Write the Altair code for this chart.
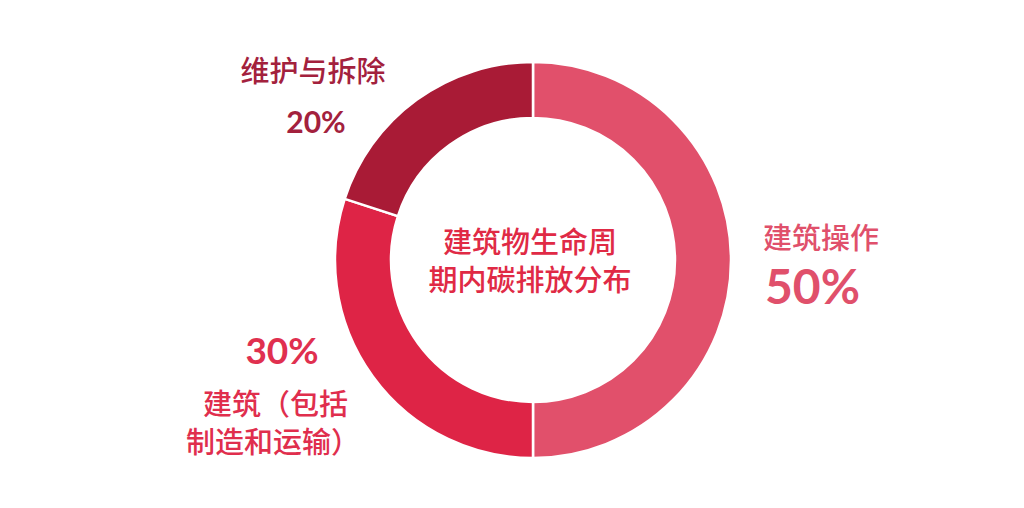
import altair as alt
import pandas as pd

# ---- data ----
categories = ["建筑操作", "建筑（包括制造和运输）", "维护与拆除"]
values = [50, 30, 20]
seg_colors = ["#E1506B", "#DE2446", "#A91B36"]

label_texts = ["维护与拆除", "20%", "建筑操作", "50%", "30%", "建筑（包括", "制造和运输）",
               "建筑物生命周", "期内碳排放分布"]

# ---- layout (pixel positions inside the plot area) ----
lx = [305, 308, 755, 757, 274, 340, 352, 522, 522]
ly = [65, 116, 232, 282, 345, 398, 436, 236, 274]
lalign = ["center", "center", "left", "left", "center", "right", "right", "center", "center"]
lsize = [29, 30, 29, 48, 37, 29, 29, 29, 29]
lfont = ["Noto Sans CJK SC", "Lato", "Noto Sans CJK SC", "Lato", "Lato",
         "Noto Sans CJK SC", "Noto Sans CJK SC", "Noto Sans CJK SC", "Noto Sans CJK SC"]
lweight = [500, "bold", 500, "bold", "bold", 500, 500, 500, 500]
lcolor = ["#A3213D", "#A3213D", "#E0506B", "#E0506B", "#E0304F", "#E02E4D", "#E02E4D",
          "#E02A45", "#E02A45"]

df = pd.DataFrame({"cat": categories, "val": values, "order": list(range(len(values)))})

arc = alt.Chart(df).mark_arc(innerRadius=142, outerRadius=198, stroke="white", strokeWidth=2.5).encode(
    theta=alt.Theta("val:Q", stack=True),
    order=alt.Order("order:Q"),
    color=alt.Color("cat:N", scale=alt.Scale(domain=categories, range=seg_colors), legend=None),
    x=alt.value(525),
    y=alt.value(252),
)

layers = [arc]
for i, t in enumerate(label_texts):
    tdf = pd.DataFrame({"text": [t], "x": [lx[i]], "y": [ly[i]]})
    layers.append(
        alt.Chart(tdf).mark_text(
            align=lalign[i], baseline="middle", fontSize=lsize[i], font=lfont[i],
            fontWeight=lweight[i], color=lcolor[i]
        ).encode(
            x=alt.X("x:Q", scale=None, axis=None),
            y=alt.Y("y:Q", scale=None, axis=None),
            text="text:N",
        )
    )

chart = alt.layer(*layers).properties(
    width=1008, height=492, autosize=alt.AutoSizeParams(type="none"), padding=0,
    background="white",
).configure_view(strokeWidth=0)

chart.save("out.html", embed_options={"renderer": "svg", "actions": False})
